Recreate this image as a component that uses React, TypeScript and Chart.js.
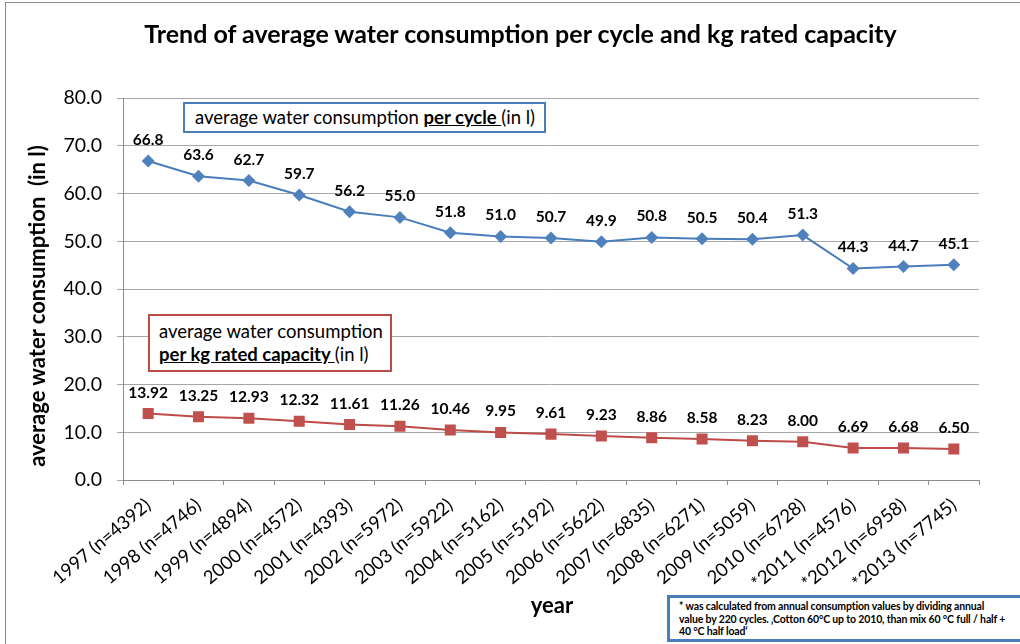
import React, { useEffect, useRef } from "react";
import { Chart, registerables } from "chart.js";

Chart.register(...registerables);

const categories = [
  "1997 (n=4392)", "1998 (n=4746)", "1999 (n=4894)", "2000 (n=4572)", "2001 (n=4393)",
  "2002 (n=5972)", "2003 (n=5922)", "2004 (n=5162)", "2005 (n=5192)", "2006 (n=5622)",
  "2007 (n=6835)", "2008 (n=6271)", "2009 (n=5059)", "2010 (n=6728)", "*2011 (n=4576)",
  "*2012 (n=6958)", "*2013 (n=7745)",
];
const perCycle = [66.8, 63.6, 62.7, 59.7, 56.2, 55.0, 51.8, 51.0, 50.7, 49.9, 50.8, 50.5, 50.4, 51.3, 44.3, 44.7, 45.1];
const perKg = [13.92, 13.25, 12.93, 12.32, 11.61, 11.26, 10.46, 9.95, 9.61, 9.23, 8.86, 8.58, 8.23, 8.0, 6.69, 6.68, 6.5];
const perCycleDecimals = 1;
const perKgDecimals = 2;

const FONT = "Lato, 'Open Sans', sans-serif";

const labelPlugin = {
  id: "pointLabels",
  afterDatasetsDraw(chart: any) {
    const ctx = chart.ctx;
    ctx.save();
    ctx.font = `bold 15.5px ${FONT}`;
    ctx.fillStyle = "#000";
    ctx.textAlign = "center";
    ctx.textBaseline = "middle";
    chart.data.datasets.forEach((ds: any, di: number) => {
      const meta = chart.getDatasetMeta(di);
      const dec = di === 0 ? perCycleDecimals : perKgDecimals;
      meta.data.forEach((pt: any, i: number) => {
        ctx.fillText(Number(ds.data[i]).toFixed(dec), pt.x, pt.y - 21);
      });
    });
    ctx.restore();
  },
};

export default function App() {
  const ref = useRef<HTMLCanvasElement>(null);
  useEffect(() => {
    if (!ref.current) return;
    const chart = new Chart(ref.current, {
      type: "line",
      data: {
        labels: categories,
        datasets: [
          {
            label: "per cycle",
            data: perCycle,
            borderColor: "#4a7ebb",
            backgroundColor: "#4f81bd",
            borderWidth: 2,
            pointStyle: "rectRot",
            pointRadius: 6.5,
            pointBorderWidth: 0,
            pointBackgroundColor: "#4f81bd",
            tension: 0,
          },
          {
            label: "per kg",
            data: perKg,
            borderColor: "#be4b48",
            backgroundColor: "#c0504d",
            borderWidth: 2,
            pointStyle: "rect",
            pointRadius: 7.8,
            pointBorderWidth: 0,
            pointBackgroundColor: "#c0504d",
            tension: 0,
          },
        ],
      },
      options: {
        animation: false,
        responsive: false,
        layout: { padding: { left: 0, right: 41, top: 98, bottom: 0 } },
        plugins: { legend: { display: false }, tooltip: { enabled: false }, title: { display: false } },
        scales: {
          x: {
            type: "category",
            offset: true,
            grid: { display: true, offset: true, drawOnChartArea: false, drawTicks: true, tickLength: 5, color: "#8c8c8c" },
            border: { color: "#8c8c8c", width: 1 },
            ticks: {
              autoSkip: false,
              minRotation: 40,
              maxRotation: 40,
              padding: 9,
              color: "#000",
              font: { family: FONT, size: 18.5 },
            },
            afterFit: (s: any) => { s.height = 164; },
          },
          y: {
            min: 0,
            max: 80,
            ticks: {
              stepSize: 10,
              padding: 15,
              color: "#000",
              font: { family: FONT, size: 19.5 },
              callback: (v: any) => Number(v).toFixed(1),
            },
            grid: { color: "#a6a6a6", tickLength: 6, drawTicks: true },
            border: { color: "#8c8c8c", width: 1 },
            afterFit: (s: any) => { s.width = 123; },
          },
        },
      },
      plugins: [labelPlugin],
    });
    return () => chart.destroy();
  }, []);

  return (
    <div style={{ position: "absolute", left: 0, top: 0, width: 1020, height: 644, overflow: "hidden", background: "#fff", fontFamily: FONT }}>
      <div style={{ position: "absolute", left: 5, top: 2, width: 1100, height: 700, borderLeft: "1px solid #8c8c8c", borderTop: "1px solid #8c8c8c" }} />
      <canvas ref={ref} width={1020} height={644} style={{ position: "absolute", left: 0, top: 0 }} />
      <div style={{ position: "absolute", left: 0, width: 1041, top: 17, textAlign: "center", fontWeight: "bold", fontSize: 25, lineHeight: "32px", color: "#000", whiteSpace: "nowrap" }}>
        Trend of average water consumption per cycle and kg rated capacity
      </div>
      <div style={{ position: "absolute", left: 37, top: 306, width: 0, height: 0 }}>
        <div style={{ position: "absolute", left: -250, top: -15, width: 500, lineHeight: "30px", textAlign: "center", fontWeight: "bold", fontSize: 22, transform: "rotate(-90deg)", whiteSpace: "nowrap" }}>
          average water consumption&nbsp;&nbsp;(in l)
        </div>
      </div>
      <div style={{ position: "absolute", left: 452, width: 200, top: 590, textAlign: "center", fontWeight: "bold", fontSize: 22, lineHeight: "30px" }}>year</div>
      <div style={{ position: "absolute", left: 183, top: 102, width: 363, height: 31, boxSizing: "border-box", border: "2px solid #4a7ebb", background: "#fff", fontSize: 18.5, lineHeight: "27px", paddingLeft: 10, whiteSpace: "nowrap" }}>
        average water consumption <b style={{ textDecoration: "underline" }}>per cycle </b>(in l)
      </div>
      <div style={{ position: "absolute", left: 148, top: 314, width: 244, height: 58, boxSizing: "border-box", border: "2px solid #be4b48", background: "#fff", fontSize: 18.5, lineHeight: "23px", padding: "4px 0 0 9px", whiteSpace: "nowrap" }}>
        average water consumption<br />
        <b style={{ textDecoration: "underline" }}>per kg rated capacity </b>(in l)
      </div>
      <div style={{ position: "absolute", left: 667, top: 595, width: 400, height: 47, boxSizing: "border-box", border: "3px solid #4a7ebb", background: "#fff", fontSize: 10.5, fontWeight: "bold", lineHeight: "12.5px", letterSpacing: "-0.15px", padding: "2px 0 0 9px", whiteSpace: "nowrap" }}>
        * was calculated from annual consumption values by dividing annual<br />
        value by 220 cycles. ‚Cotton 60°C up to 2010, than mix 60 °C full / half +<br />
        40 °C half load‘
      </div>
    </div>
  );
}
